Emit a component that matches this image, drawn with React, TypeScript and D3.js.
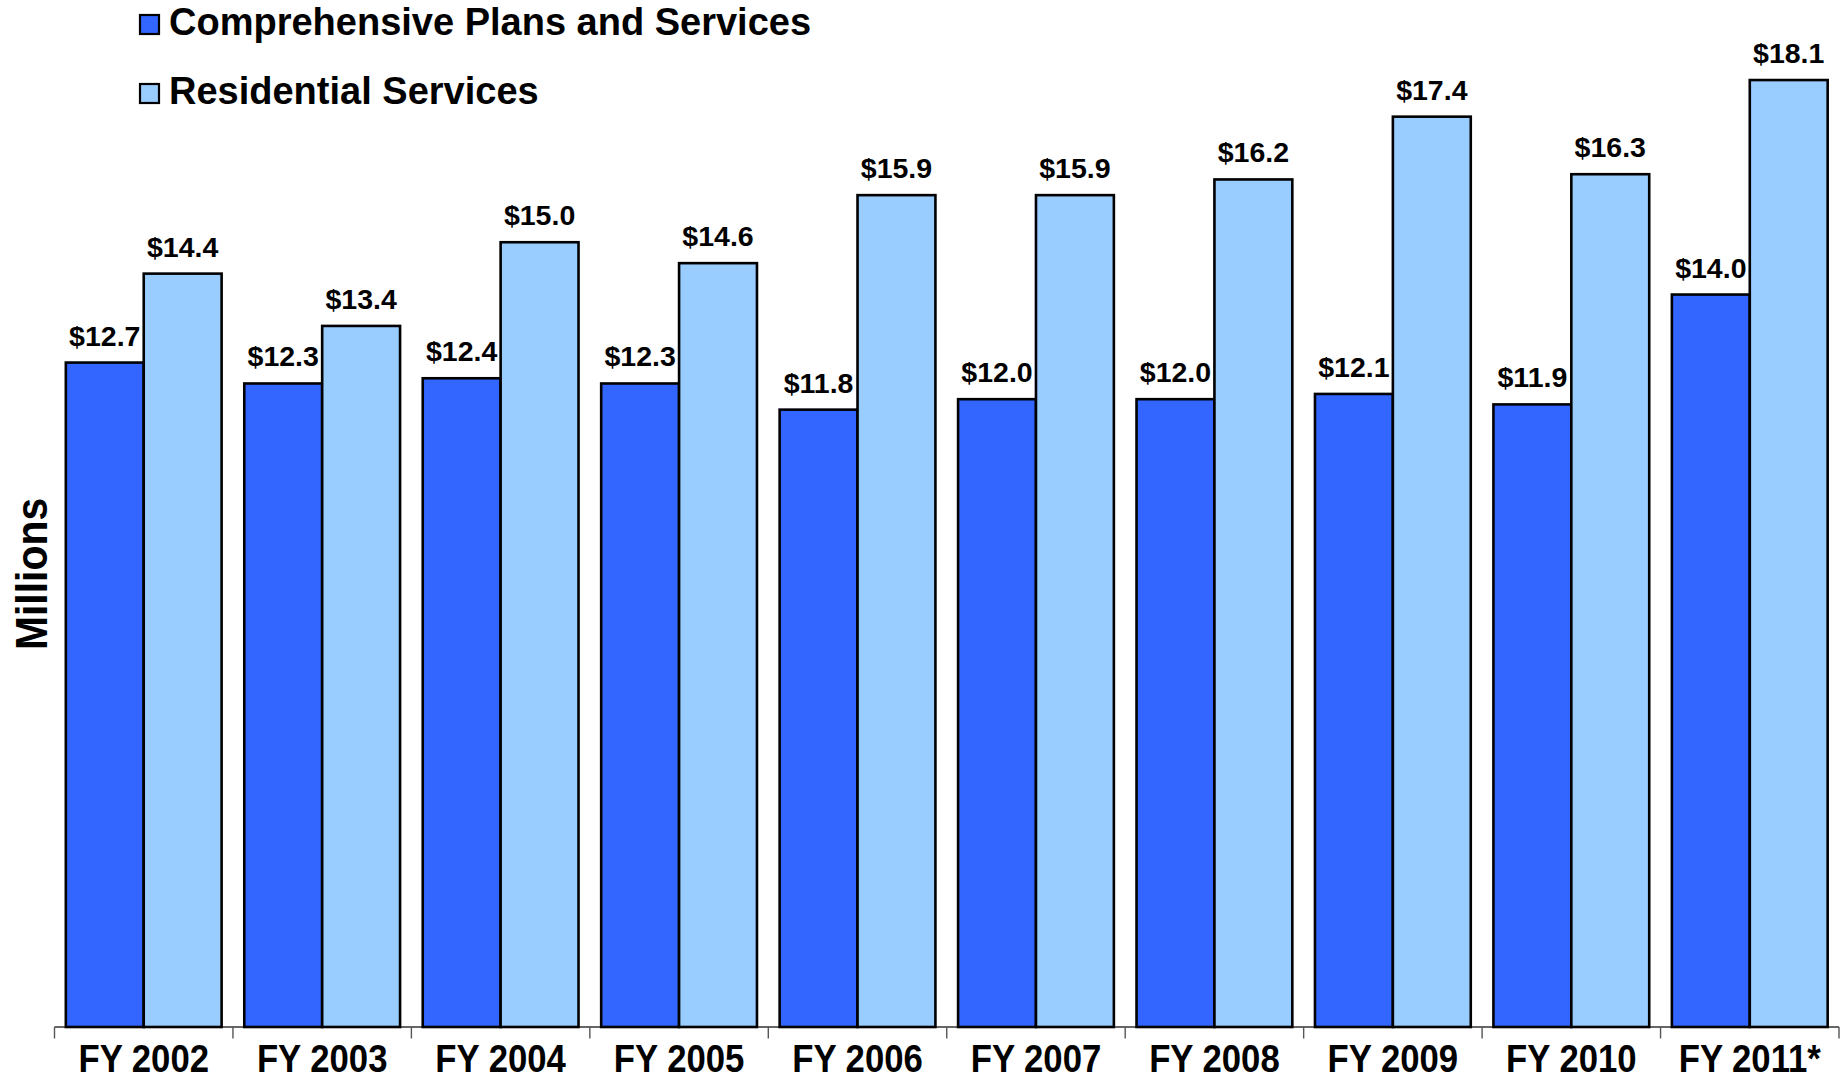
import React from "react";
import * as d3 from "d3";

const categories = ["FY 2002", "FY 2003", "FY 2004", "FY 2005", "FY 2006", "FY 2007", "FY 2008", "FY 2009", "FY 2010", "FY 2011*"];
const comprehensive = [12.7, 12.3, 12.4, 12.3, 11.8, 12.0, 12.0, 12.1, 11.9, 14.0];
const residential = [14.4, 13.4, 15.0, 14.6, 15.9, 15.9, 16.2, 17.4, 16.3, 18.1];
const seriesNames = ["Comprehensive Plans and Services", "Residential Services"];
const seriesColors = ["#3366FF", "#99CCFF"];
const yAxisTitle = "Millions";

const W = 1846;
const H = 1078;
const FONT = "'Liberation Sans', Arial, Helvetica, sans-serif";

export default function App() {
  const x0 = 54.5;
  const x1 = 1839;
  const baseY = 1027;
  const x = d3.scaleBand<string>().domain(categories).range([x0, x1]).paddingInner(0.127).paddingOuter(0.0635);
  const sub = d3.scaleBand<number>().domain([0, 1]).range([0, x.bandwidth()]);
  const y = d3.scaleLinear().domain([0, 19.63]).range([baseY, 0]);
  const step = x.step();
  const ticks = d3.range(categories.length + 1).map((i) => x0 + i * step);
  const series = [comprehensive, residential];

  return (
    <svg width={W} height={H} style={{ position: "absolute", left: 0, top: 0, background: "#fff" }} fontFamily={FONT}>
      <rect x={0} y={0} width={W} height={H} fill="#fff" />
      {/* axis */}
      <line x1={x0} x2={x1} y1={baseY} y2={baseY} stroke="#333" strokeWidth={1.4} />
      {ticks.map((t, i) => (
        <line key={i} x1={t} x2={t} y1={baseY} y2={baseY + 11.5} stroke="#555" strokeWidth={1.4} />
      ))}
      {/* bars */}
      {series.map((vals, s) =>
        categories.map((c, i) => {
          const bx = (x(c) as number) + (sub(s) as number);
          const by = y(vals[i]);
          return (
            <rect key={`${s}-${i}`} x={bx} y={by} width={sub.bandwidth()} height={baseY - by}
              fill={seriesColors[s]} stroke="#000" strokeWidth={2.6} />
          );
        })
      )}
      {/* value labels */}
      {series.map((vals, s) =>
        categories.map((c, i) => {
          const cx = (x(c) as number) + (sub(s) as number) + sub.bandwidth() / 2;
          return (
            <text key={`l${s}-${i}`} x={cx} y={y(vals[i]) - 17} textAnchor="middle" fontSize={28.5} fontWeight="bold" fill="#000">
              {"$" + vals[i].toFixed(1)}
            </text>
          );
        })
      )}
      {/* x labels */}
      {categories.map((c) => {
        const cx = (x(c) as number) + x.bandwidth() / 2;
        return (
          <text key={c} transform={`translate(${cx},1071.5) scale(0.89,1)`} textAnchor="middle" fontSize={39} fontWeight="bold" fill="#000">
            {c}
          </text>
        );
      })}
      {/* y axis title */}
      <text transform={`translate(46.5,574) rotate(-90) scale(0.93,1)`} textAnchor="middle" fontSize={44} fontWeight="bold" fill="#000">
        {yAxisTitle}
      </text>
      {/* legend */}
      {seriesNames.map((n, i) => (
        <g key={n} transform={`translate(0,${i * 69})`}>
          <rect x={140} y={15} width={19} height={19} fill={seriesColors[i]} stroke="#000" strokeWidth={2.2} />
          <text x={169} y={35} fontSize={38} fontWeight="bold" fill="#000">{n}</text>
        </g>
      ))}
    </svg>
  );
}
